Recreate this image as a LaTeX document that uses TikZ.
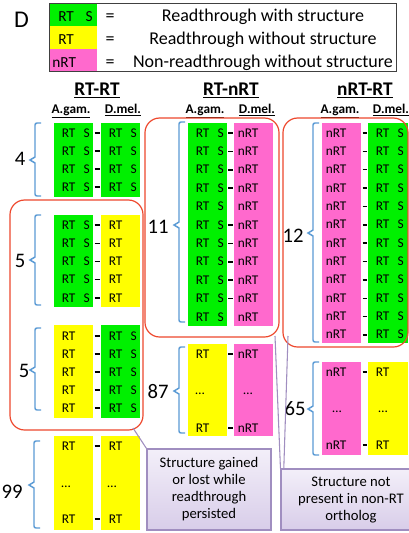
\documentclass[tikz,border=0pt]{standalone}
\usepackage{fontspec}
\setmainfont{Carlito}
\usetikzlibrary{calc}
\definecolor{gr}{RGB}{0,240,0}
\definecolor{yl}{RGB}{255,255,0}
\definecolor{pk}{RGB}{255,105,205}
\definecolor{redb}{RGB}{238,72,45}
\definecolor{bl}{RGB}{91,155,213}
\definecolor{cfillt}{RGB}{243,239,249}
\definecolor{cfillb}{RGB}{216,205,233}
\definecolor{cdraw}{RGB}{160,142,192}
\tikzset{
 rowt/.style={font=\fontsize{10}{12}\selectfont, inner sep=0pt},
 dsh/.style={line width=1.1pt},
 bracel/.style={draw=bl, line width=1.1pt},
 redbox/.style={draw=redb, line width=0.9pt, rounded corners=11pt},
 num/.style={font=\fontsize{15.5}{18}\selectfont, inner sep=0pt},
 hdr/.style={font=\fontsize{14.5}{17}\selectfont\bfseries, inner sep=0pt, anchor=base},
 subh/.style={font=\fontsize{10}{12}\selectfont\bfseries, inner sep=0pt, anchor=base},
 legt/.style={font=\fontsize{13.5}{16}\selectfont, inner sep=0pt, anchor=base},
 swt/.style={font=\fontsize{11.5}{14}\selectfont, inner sep=0pt, anchor=base west},
 callbox/.style={draw=cdraw, line width=0.8pt, top color=cfillt, bottom color=cfillb, align=center, font=\fontsize{11}{12.75}\selectfont, inner sep=0pt},
 callline/.style={draw=cdraw, line width=0.8pt},
}
\newcommand\rtsC[3]{%
  \node[rowt,anchor=base west] (#1a) at ({#2+7.5},{#3+4}) {RT};
  \node[rowt,anchor=base east] (#1b) at ({#2+36},{#3+4}) {S};}
\newcommand\rtC[3]{\node[rowt,anchor=base west] (#1) at ({#2+7.5},{#3+4}) {RT};}
\newcommand\nrtC[3]{\node[rowt,anchor=base west] (#1) at ({#2+3.5},{#3+4}) {nRT};}
\newcommand\dotsC[3]{\node[rowt,anchor=base] (#1) at (#2,{#3+1}) {…};}
\newcommand\brc[4]{%
  \draw[bracel] ({#1+6},#2) -- ({#1+2},#2) to[out=180,in=90] (#1,{#2+2}) -- (#1,{#3-3}) -- ({#1-5},#3) -- (#1,{#3+3}) -- (#1,{#4-2}) to[out=-90,in=180] ({#1+2},#4) -- ({#1+6},#4);}
\begin{document}
\begin{tikzpicture}[x=0.75pt,y=-0.75pt]
\useasboundingbox (0,0) rectangle (409,533);
\clip (0,0) rectangle (409,533);
\fill[white] (0,0) rectangle (409,533);

% panel letter
\node[font=\fontsize{18}{20}\selectfont, inner sep=0pt] (D) at (21.5,19.5) {D};

% legend
\fill[gr] (49,3) rectangle (97,26);
\fill[yl] (49,26) rectangle (97,48.5);
\fill[pk] (49,48.5) rectangle (97,71);
\draw[draw=black!75, line width=0.75pt] (49,3) rectangle (396,71);
\node[swt] (s1a) at (58,21) {RT};
\node[swt,anchor=base east] (s1b) at (93,21) {S};
\node[swt] (s2) at (58,44) {RT};
\node[swt] (s3) at (52,67) {nRT};
\node[legt] (e1) at (110,21) {=};
\node[legt] (e2) at (110,44) {=};
\node[legt] (e3) at (110,67) {=};
\node[legt] (l1) at (263,21) {Readthrough with structure};
\node[legt] (l2) at (263,44) {Readthrough without structure};
\node[legt] (l3) at (263,67) {Non-readthrough without structure};

% headers
\node[hdr] (h1) at (97,95) {\underline{RT-RT}};
\node[hdr] (h2) at (231,95) {\underline{RT-nRT}};
\node[hdr] (h3) at (365,95) {\underline{nRT-RT}};
\node[subh] (a1) at (71,113) {\underline{A.gam.}};
\node[subh] (d1) at (123,113) {\underline{D.mel.}};
\node[subh] (a2) at (205,113) {\underline{A.gam.}};
\node[subh] (d2) at (257,113) {\underline{D.mel.}};
\node[subh] (a3) at (340,113) {\underline{A.gam.}};
\node[subh] (d3) at (391,113) {\underline{D.mel.}};

% ---------- left column ----------
% group 1 (4)
\fill[gr] (54,123) rectangle (93,197);
\fill[gr] (101,123) rectangle (140,197);
\foreach \y [count=\i] in {133,151,169,187}{
  \rtsC{gaL\i}{54}{\y}
  \rtsC{gaR\i}{101}{\y}
  \draw[dsh] (94.5,\y) -- (99.5,\y);
}
\brc{35}{123}{160}{196}
\node[num] (n4) at (20,159) {4};

% group 2 (5)
\fill[gr] (54,215) rectangle (93,307);
\fill[yl] (101,215) rectangle (140,307);
\foreach \y [count=\i] in {225,243.25,261.5,279.75,298}{
  \rtsC{gbL\i}{54}{\y}
  \rtC{gbR\i}{101}{\y}
  \draw[dsh] (94.5,\y) -- (99.5,\y);
}
\brc{35}{215}{260}{305}
\node[num] (n5a) at (20,261) {5};

% group 3 (5)
\fill[yl] (54,325) rectangle (93,418);
\fill[gr] (101,325) rectangle (140,418);
\foreach \y [count=\i] in {336,354,372,390,408}{
  \rtC{gcL\i}{54}{\y}
  \rtsC{gcR\i}{101}{\y}
  \draw[dsh] (94.5,\y) -- (99.5,\y);
}
\brc{35}{328}{370}{410}
\node[num] (n5b) at (24,371) {5};

% group 4 (99)
\fill[yl] (54,436) rectangle (93,530);
\fill[yl] (101,436) rectangle (140,530);
\rtC{gdL1}{54}{446}
\rtC{gdR1}{101}{446}
\rtC{gdL2}{54}{519}
\rtC{gdR2}{101}{519}
\dotsC{gdL3}{66}{486}
\dotsC{gdR3}{112}{486}
\draw[dsh] (94.5,446) -- (99.5,446);
\draw[dsh] (94.5,519) -- (99.5,519);
\brc{34}{441}{485}{528}
\node[num] (n99) at (12,492) {99};

% ---------- middle column ----------
% group 11
\fill[gr] (188,123) rectangle (227,326);
\fill[pk] (234,123) rectangle (273,326);
\foreach \i in {1,...,11}{
  \pgfmathsetmacro\y{133+18.4*(\i-1)}
  \rtsC{geL\i}{188}{\y}
  \nrtC{geR\i}{234}{\y}
  \ifnum\i=5 \else\ifnum\i=11 \else
    \draw[dsh] (228,\y) -- (233,\y);
  \fi\fi
}
\brc{179}{122}{225}{322}
\node[num] (n11) at (158,227) {11};

% group 87
\fill[yl] (188,344) rectangle (227,436);
\fill[pk] (234,344) rectangle (273,436);
\rtC{gfL1}{188}{354}
\nrtC{gfR1}{234}{354}
\rtC{gfL2}{188}{428}
\nrtC{gfR2}{234}{428}
\dotsC{gfL3}{200}{393}
\dotsC{gfR3}{248}{393}
\draw[dsh] (228,354) -- (233,354);
\draw[dsh] (228,428) -- (233,428);
\brc{179}{347}{391}{433}
\node[num] (n87) at (158,392) {87};

% ---------- right column ----------
% group 12
\fill[pk] (322,123) rectangle (361,343);
\fill[gr] (368,123) rectangle (408,343);
\foreach \i in {1,...,12}{
  \pgfmathsetmacro\y{133+18.36*(\i-1)}
  \nrtC{ggL\i}{322}{\y}
  \rtsC{ggR\i}{368}{\y}
  \draw[dsh] (362.5,\y) -- (366.5,\y);
}
\brc{313}{123}{233}{342}
\node[num] (n12) at (293,236) {12};

% group 65
\fill[pk] (322,362) rectangle (361,455);
\fill[yl] (368,362) rectangle (408,455);
\nrtC{ghL1}{322}{372}
\rtC{ghR1}{368}{372}
\nrtC{ghL2}{322}{445}
\rtC{ghR2}{368}{445}
\dotsC{ghL3}{337}{411}
\dotsC{ghR3}{383}{411}
\draw[dsh] (362.5,372) -- (366.5,372);
\draw[dsh] (362.5,445) -- (366.5,445);
\brc{313}{362}{409}{455}
\node[num] (n65) at (295,409) {65};

% ---------- red rounded boxes ----------
\draw[redbox] (10,200) rectangle (143,430);
\draw[redbox] (145,118) rectangle (279,337);
\draw[redbox] (283,118) rectangle (408,347);

% ---------- callouts ----------
\node[callbox, minimum width=93pt, minimum height=60.75pt] (c1) at (209,489.5)
  {Structure gained\\or lost while\\readthrough\\persisted};
\node[callbox, minimum width=105pt, minimum height=45.75pt] (c2) at (351,499.5)
  {Structure not\\present in non-RT\\ortholog};
\coordinate (t1) at (133,428);
\draw[callline] (t1) -- (c1.north west);
\coordinate (t2a) at (275,336);
\coordinate (t2b) at (288,336);
\draw[callline] (t2a) -- (c2.north west);
\draw[callline] (t2b) -- ([xshift=2.5pt]c2.north west);
\end{tikzpicture}
\end{document}
